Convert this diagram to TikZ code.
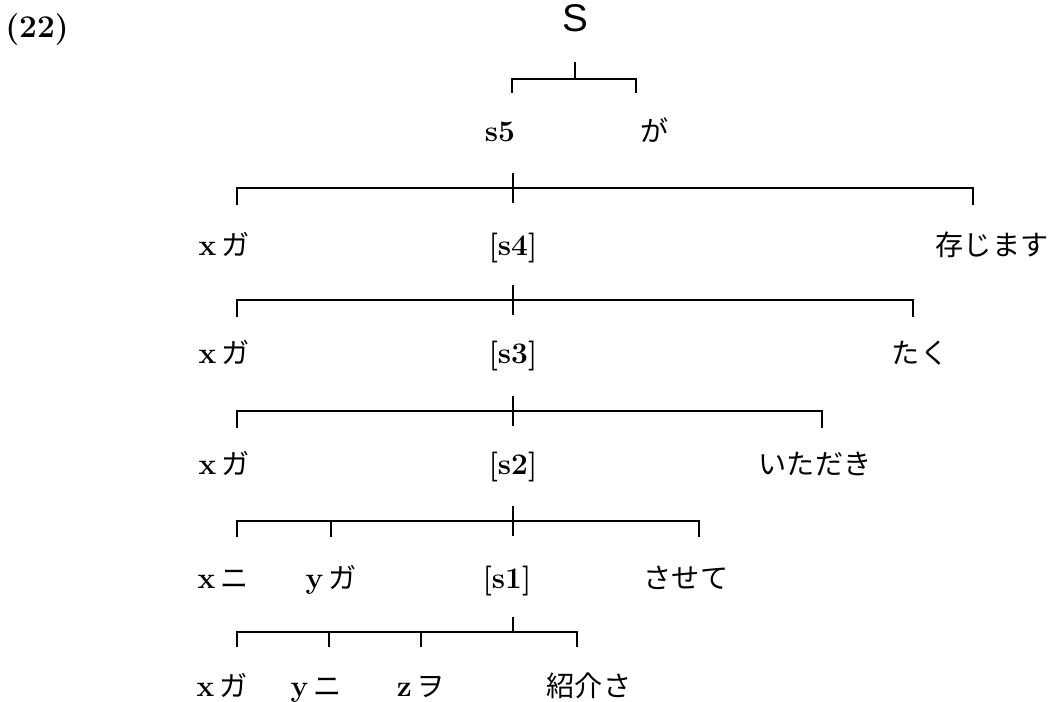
\documentclass[tikz,border=0pt]{standalone}
\usepackage{fontspec}
\newfontfamily\jp{Noto Sans CJK JP}
\newfontfamily\helv{Liberation Sans}
\usetikzlibrary{positioning}
\newcommand{\J}[1]{{\fontsize{16}{20}\selectfont\jp\mdseries #1}}

\begin{document}
\begin{tikzpicture}[x=0.02cm, y=-0.02cm,
  lab/.style={inner sep=0pt, anchor=base, font=\fontsize{17}{20}\selectfont\bfseries},
  bar/.style={line width=0.9pt}]
\useasboundingbox (0,0) rectangle (1058,701);

% example number and root
\node[lab, font=\fontsize{18}{22}\selectfont\bfseries] (num) at (37,37) {(22)};
\node[lab, font=\fontsize{22}{26}\selectfont\helv] (S) at (575,31) {S};

% row 2
\node[lab] (s5) at (500,141) {s5};
\node[lab] (ga) at (655,141) {\J{が}};
% row 3
\node[lab] (xga3) at (224,255) {x\,\J{ガ}};
\node[lab] (s4) at (513,255) {[s4]};
\node[lab] (zonji) at (992,255) {\J{存じます}};
% row 4
\node[lab] (xga4) at (224,363) {x\,\J{ガ}};
\node[lab] (s3) at (513,363) {[s3]};
\node[lab] (taku) at (920,363) {\J{たく}};
% row 5
\node[lab] (xga5) at (224,474) {x\,\J{ガ}};
\node[lab] (s2) at (513,474) {[s2]};
\node[lab] (itadaki) at (815,474) {\J{いただき}};
% row 6
\node[lab] (xni6) at (223,588) {x\,\J{ニ}};
\node[lab] (yga6) at (331,588) {y\,\J{ガ}};
\node[lab] (s1) at (507,588) {[s1]};
\node[lab] (sasete) at (686,588) {\J{させて}};
% row 7
\node[lab] (xga7) at (222,696) {x\,\J{ガ}};
\node[lab] (yni7) at (316,696) {y\,\J{ニ}};
\node[lab] (zwo7) at (421,696) {z\,\J{ヲ}};
\node[lab] (shokai) at (589,696) {\J{紹介さ}};

% brackets: stem, bar, drops
\coordinate (t1) at (575,62);  \coordinate (l1) at (512,79);  \coordinate (r1) at (636,79);
\draw[bar] (t1) -- (t1 |- l1);
\draw[bar] (l1) ++(0,14) -- (l1) -- (r1) -- ++(0,14);

\coordinate (t2) at (513,173); \coordinate (l2) at (237,188); \coordinate (r2) at (973,188);
\draw[bar] (t2) -- ++(0,30);
\draw[bar] (l2) ++(0,17) -- (l2) -- (r2) -- ++(0,17);

\coordinate (t3) at (513,285); \coordinate (l3) at (237,300); \coordinate (r3) at (913,300);
\draw[bar] (t3) -- ++(0,30);
\draw[bar] (l3) ++(0,17) -- (l3) -- (r3) -- ++(0,17);

\coordinate (t4) at (513,396); \coordinate (l4) at (237,411); \coordinate (r4) at (822,411);
\draw[bar] (t4) -- ++(0,30);
\draw[bar] (l4) ++(0,17) -- (l4) -- (r4) -- ++(0,17);

\coordinate (t5) at (513,506); \coordinate (l5) at (237,521); \coordinate (r5) at (699,521);
\draw[bar] (t5) -- ++(0,30);
\draw[bar] (l5) ++(0,16) -- (l5) -- (r5) -- ++(0,16);
\draw[bar] (l5 -| yga6) -- ++(0,16);

\coordinate (t6) at (513,617); \coordinate (l6) at (237,632); \coordinate (r6) at (577,632);
\draw[bar] (t6) -- (t6 |- l6);
\draw[bar] (l6) ++(0,15) -- (l6) -- (r6) -- ++(0,15);
\foreach \d in {329,421} \draw[bar] (\d,632) -- ++(0,15);
\end{tikzpicture}
\end{document}
